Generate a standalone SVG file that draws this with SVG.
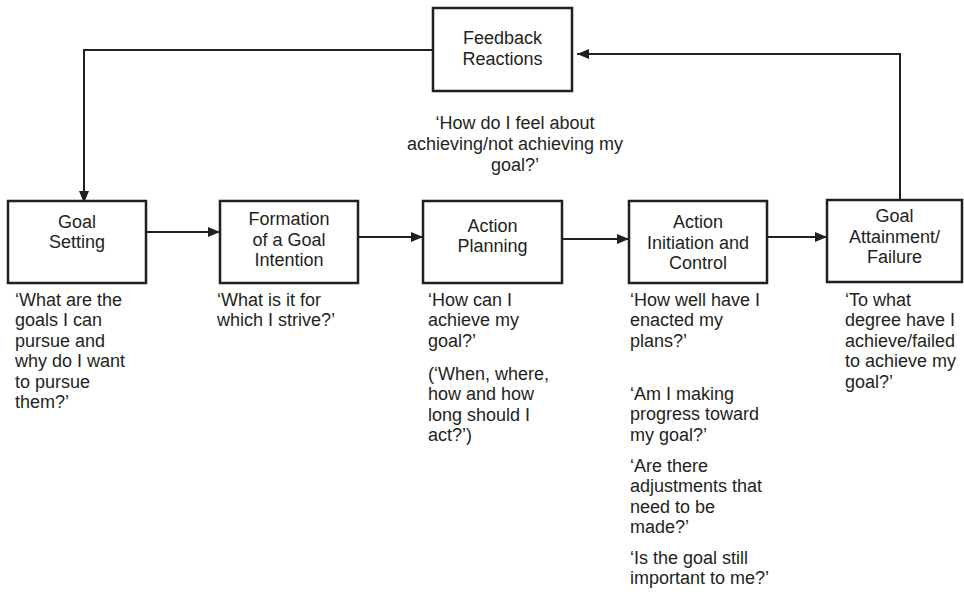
<svg xmlns="http://www.w3.org/2000/svg" width="964" height="602" viewBox="0 0 964 602">
  <defs>
    <marker id="arr" markerUnits="userSpaceOnUse" markerWidth="12" markerHeight="10" refX="12" refY="5" orient="auto">
      <path d="M0,0 L12,5 L0,10 z" fill="#231f20"/>
    </marker>
    <style>
      .box { fill: #ffffff; stroke: #231f20; stroke-width: 2.5; }
      .lbl { font-family: "Liberation Sans", Arial, sans-serif; font-size: 18px; fill: #231f20; text-anchor: middle; }
      .q { font-family: "Liberation Sans", Arial, sans-serif; font-size: 18px; fill: #231f20; }
      .qc { font-family: "Liberation Sans", Arial, sans-serif; font-size: 18px; fill: #231f20; text-anchor: middle; }
      .con { fill: none; stroke: #231f20; stroke-width: 2; marker-end: url(#arr); }
    </style>
  </defs>
  <rect width="964" height="602" fill="#ffffff"/>

  <g id="connectors">
    <line class="con" x1="146" y1="232" x2="220" y2="232"/>
    <line class="con" x1="358" y1="237" x2="423" y2="237"/>
    <line class="con" x1="562" y1="239" x2="629" y2="239"/>
    <line class="con" x1="767" y1="237" x2="827" y2="237"/>
    <polyline class="con" points="900,200 900,54 577,54"/>
    <polyline class="con" points="433,50 84,50 84,203"/>
  </g>

  <g id="feedback">
    <rect class="box" x="433" y="8" width="139" height="83"/>
    <text class="lbl" x="502.5" y="44">Feedback</text>
    <text class="lbl" x="502.5" y="65">Reactions</text>
    <text class="qc" x="515" y="129">‘How do I feel about</text>
    <text class="qc" x="515" y="150">achieving/not achieving my</text>
    <text class="qc" x="515" y="171">goal?’</text>
  </g>

  <g id="goal-setting">
    <rect class="box" x="8" y="201" width="138" height="82"/>
    <text class="lbl" x="77" y="228">Goal</text>
    <text class="lbl" x="77" y="248">Setting</text>
    <text class="q" x="15" y="306">‘What are the</text>
    <text class="q" x="15" y="326">goals I can</text>
    <text class="q" x="15" y="347">pursue and</text>
    <text class="q" x="15" y="367">why do I want</text>
    <text class="q" x="15" y="388">to pursue</text>
    <text class="q" x="15" y="408">them?’</text>
  </g>

  <g id="formation">
    <rect class="box" x="220" y="201" width="138" height="82"/>
    <text class="lbl" x="289" y="225">Formation</text>
    <text class="lbl" x="289" y="246">of a Goal</text>
    <text class="lbl" x="289" y="266">Intention</text>
    <text class="q" x="217" y="306">‘What is it for</text>
    <text class="q" x="217" y="326">which I strive?’</text>
  </g>

  <g id="action-planning">
    <rect class="box" x="423" y="201" width="139" height="82"/>
    <text class="lbl" x="492.5" y="232">Action</text>
    <text class="lbl" x="492.5" y="252">Planning</text>
    <text class="q" x="428" y="306">‘How can I</text>
    <text class="q" x="428" y="326">achieve my</text>
    <text class="q" x="428" y="347">goal?’</text>
    <text class="q" x="428" y="380">(‘When, where,</text>
    <text class="q" x="428" y="400">how and how</text>
    <text class="q" x="428" y="421">long should I</text>
    <text class="q" x="428" y="441">act?’)</text>
  </g>

  <g id="action-initiation">
    <rect class="box" x="629" y="201" width="138" height="82"/>
    <text class="lbl" x="698" y="228">Action</text>
    <text class="lbl" x="698" y="249">Initiation and</text>
    <text class="lbl" x="698" y="269">Control</text>
    <text class="q" x="630" y="306">‘How well have I</text>
    <text class="q" x="630" y="326">enacted my</text>
    <text class="q" x="630" y="347">plans?’</text>
    <text class="q" x="630" y="400">‘Am I making</text>
    <text class="q" x="630" y="420">progress toward</text>
    <text class="q" x="630" y="441">my goal?’</text>
    <text class="q" x="630" y="472">‘Are there</text>
    <text class="q" x="630" y="492">adjustments that</text>
    <text class="q" x="630" y="513">need to be</text>
    <text class="q" x="630" y="533">made?’</text>
    <text class="q" x="630" y="564">‘Is the goal still</text>
    <text class="q" x="630" y="584">important to me?’</text>
  </g>

  <g id="goal-attainment">
    <rect class="box" x="827" y="200" width="135" height="82"/>
    <text class="lbl" x="894.5" y="222">Goal</text>
    <text class="lbl" x="894.5" y="243">Attainment/</text>
    <text class="lbl" x="894.5" y="263">Failure</text>
    <text class="q" x="845" y="306">‘To what</text>
    <text class="q" x="845" y="326">degree have I</text>
    <text class="q" x="845" y="347">achieve/failed</text>
    <text class="q" x="845" y="367">to achieve my</text>
    <text class="q" x="845" y="388">goal?’</text>
  </g>
</svg>
